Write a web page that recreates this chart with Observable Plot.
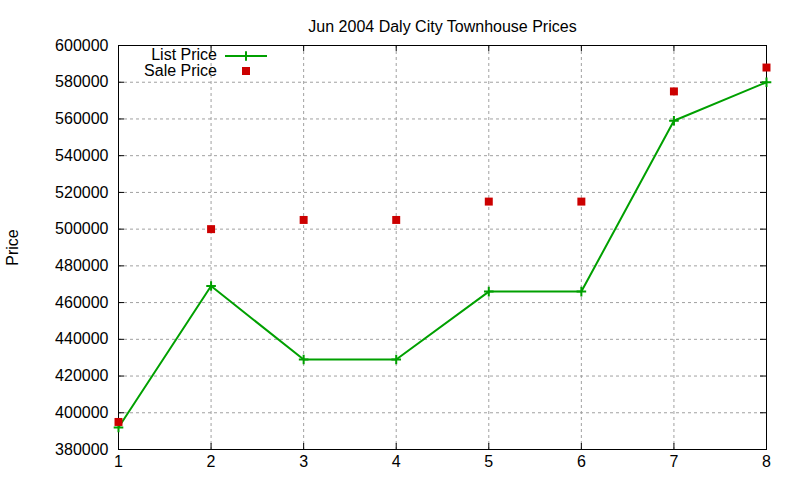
<!DOCTYPE html>
<html>
<head>
<meta charset="utf-8">
<script src="https://cdn.jsdelivr.net/npm/d3@7"></script>
<script src="https://cdn.jsdelivr.net/npm/@observablehq/plot@0.6"></script>
<style>
  body { margin: 0; background: #fff; }
  #chart { width: 800px; height: 480px; }
</style>
</head>
<body>
<div id="chart"></div>
<script>
const titleText = "Jun 2004 Daly City Townhouse Prices";
const yLabel = "Price";
const seriesNames = ["List Price", "Sale Price"];
const xs = [1, 2, 3, 4, 5, 6, 7, 8];
const listPrice = [392000, 469000, 429000, 429000, 466000, 466000, 559000, 580000];
const salePrice = [395000, 500000, 505000, 505000, 515000, 515000, 575000, 588000];
const xTicks = [1, 2, 3, 4, 5, 6, 7, 8];
const yTicks = [380000, 400000, 420000, 440000, 460000, 480000, 500000, 520000, 540000, 560000, 580000, 600000];

const green = "#00a000";
const red = "#cc0000";
const gridColor = "#a0a0a0";

const listData = xs.map((x, i) => ({x, y: listPrice[i]}));
const saleData = xs.map((x, i) => ({x, y: salePrice[i]}));

const W = 800, H = 480, mL = 118, mR = 34, mT = 45, mB = 31;
const fw = W - mL - mR, fh = H - mT - mB;
const tk = 6;

const innerX = xTicks.slice(1, -1);
const innerY = yTicks.slice(1, -1);

const plot = Plot.plot({
  width: W, height: H,
  marginLeft: mL, marginRight: mR, marginTop: mT, marginBottom: mB,
  x: {domain: [1, 8]},
  y: {domain: [380000, 600000]},
  style: {fontFamily: "'Liberation Sans', Arial, sans-serif", fontSize: "16px", background: "#fff", color: "#000"},
  marks: [
    Plot.ruleX(innerX, {x: d => d, stroke: gridColor, strokeDasharray: "3,3", strokeWidth: 1}),
    Plot.ruleY(innerY, {y: d => d, stroke: gridColor, strokeDasharray: "3,3", strokeWidth: 1}),
    Plot.tickY(yTicks, {y: d => d, insetRight: fw - tk, stroke: "#000"}),
    Plot.tickY(yTicks, {y: d => d, insetLeft: fw - tk, stroke: "#000"}),
    Plot.tickX(xTicks, {x: d => d, insetTop: fh - tk, stroke: "#000"}),
    Plot.tickX(xTicks, {x: d => d, insetBottom: fh - tk, stroke: "#000"}),
    Plot.frame({stroke: "#000", strokeWidth: 1}),
    Plot.axisY({ticks: yTicks, tickSize: 0, tickPadding: 10, tickFormat: d => String(d), label: null, fontSize: 16}),
    Plot.axisX({ticks: xTicks, tickSize: 0, tickPadding: 6, tickFormat: d => String(d), label: null, fontSize: 16}),
    Plot.line(listData, {x: "x", y: "y", stroke: green, strokeWidth: 2}),
    Plot.dot(listData, {x: "x", y: "y", symbol: "plus", stroke: green, strokeWidth: 2, r: 3.2}),
    Plot.dot(saleData, {x: "x", y: "y", symbol: "square", fill: red, stroke: "none", r: 4.5}),
    Plot.text([titleText], {frameAnchor: "top", dy: -25, fontSize: 16, fill: "#000"}),
    Plot.text([yLabel], {frameAnchor: "left", dx: -106, rotate: -90, textAnchor: "middle", fontSize: 16, fill: "#000"})
  ]
});

// Legend (drawn inside the plot area, top-left)
const svg = d3.select(plot);
const lg = svg.append("g").attr("font-family", "'Liberation Sans', Arial, sans-serif").attr("font-size", 16);
lg.append("text").attr("x", 217).attr("y", 55).attr("dy", "0.32em").attr("text-anchor", "end").text(seriesNames[0]);
lg.append("line").attr("x1", 225).attr("x2", 267).attr("y1", 56).attr("y2", 56).attr("stroke", green).attr("stroke-width", 2);
lg.append("path").attr("d", d3.symbol(d3.symbolPlus, 32)()).attr("transform", "translate(246,56)").attr("stroke", green).attr("stroke-width", 2).attr("fill", "none");
lg.append("text").attr("x", 217).attr("y", 71).attr("dy", "0.32em").attr("text-anchor", "end").text(seriesNames[1]);
lg.append("rect").attr("x", 242).attr("y", 67).attr("width", 8).attr("height", 8).attr("fill", red);

document.getElementById("chart").appendChild(plot);
</script>
</body>
</html>
